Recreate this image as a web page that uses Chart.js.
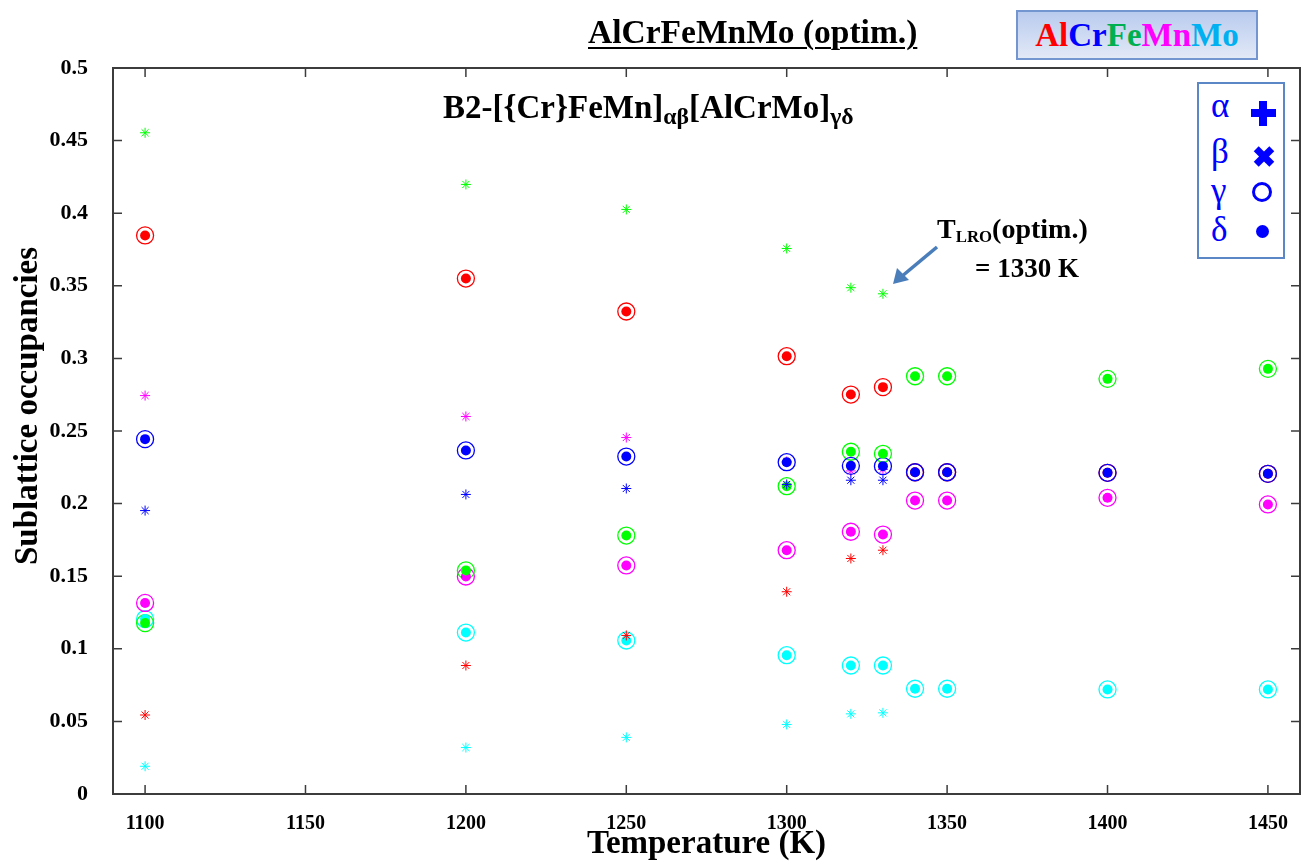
<!DOCTYPE html>
<html>
<head>
<meta charset="utf-8">
<script src="https://cdn.jsdelivr.net/npm/chart.js@4.4.1/dist/chart.umd.min.js"></script>
<style>
body { margin: 0; background: #fff; }
#wrap { position: relative; width: 1311px; height: 862px; font-family: "Liberation Serif", "Times New Roman", serif; }
canvas { position: absolute; left: 0; top: 0; }
.abs { position: absolute; white-space: nowrap; line-height: 1; }
#title { left: 588px; top: 15px; font-size: 33.5px; font-weight: bold; text-decoration: underline; text-decoration-thickness: 2px; text-underline-offset: 4px; }
#elemBox { left: 1016px; top: 10px; width: 238px; height: 46px; border: 2px solid #7395d0; background: linear-gradient(#b9cbee, #e2e9f7); text-align: center; font-size: 33px; font-weight: bold; line-height: 46px; }
#sub { left: 443px; top: 91px; font-size: 33px; font-weight: bold; }
#sub sub { font-size: 72%; vertical-align: -0.25em; }
#tlro sub { font-size: 60%; vertical-align: -0.25em; }
#legend { left: 1197px; top: 82px; width: 84px; height: 173px; border: 2px solid #5b87c7; background: #fff; }
.greek { position: absolute; left: 12px; font-size: 35px; color: #0000ff; }
.sym { position: absolute; background: #0000ff; }
#tlro { left: 937px; top: 215px; font-size: 28px; font-weight: bold; }
#tval { left: 975px; top: 255px; font-size: 27px; font-weight: bold; }
</style>
</head>
<body>
<div id="wrap">
  <canvas id="chart" width="1311" height="862"></canvas>
  <div class="abs" id="title">AlCrFeMnMo (optim.)</div>
  <div class="abs" id="elemBox"><span style="color:#ff0000">Al</span><span style="color:#0000ff">Cr</span><span style="color:#00b050">Fe</span><span style="color:#ff00ff">Mn</span><span style="color:#00b0f0">Mo</span></div>
  <div class="abs" id="sub">B2-[{Cr}FeMn]<sub>αβ</sub>[AlCrMo]<sub>γδ</sub></div>
  <div class="abs" id="legend">
    <div class="greek" style="top:4px">α</div>
    <div class="greek" style="top:50px">β</div>
    <div class="greek" style="top:89px">γ</div>
    <div class="greek" style="top:128px">δ</div>
    <div class="sym" style="left:52px;top:25px;width:25px;height:8px"></div>
    <div class="sym" style="left:60px;top:17px;width:8px;height:25px"></div>
    <div class="sym" style="left:54px;top:69px;width:22px;height:7px;transform:rotate(45deg)"></div>
    <div class="sym" style="left:54px;top:69px;width:22px;height:7px;transform:rotate(-45deg)"></div>
    <div class="sym" style="left:53px;top:98px;width:14px;height:14px;border:3px solid #0000ff;border-radius:50%;background:transparent"></div>
    <div class="sym" style="left:57px;top:141px;width:13px;height:13px;border-radius:50%"></div>
  </div>
  <div class="abs" id="tlro">T<sub>LRO</sub>(optim.)</div>
  <div class="abs" id="tval">= 1330 K</div>
  <svg class="abs" width="1311" height="862" style="left:0;top:0">
    <line x1="937" y1="247" x2="901" y2="277" stroke="#4a7ebb" stroke-width="3.5"/>
    <polygon points="893,284 897,268 909,280" fill="#4a7ebb"/>
  </svg>
</div>
<script>
const temps = [1100, 1200, 1250, 1300, 1320, 1330, 1340, 1350, 1400, 1450];
const tempsOrdered = [1100, 1200, 1250, 1300, 1320, 1330];
const xTicks = [1100, 1150, 1200, 1250, 1300, 1350, 1400, 1450];
const yTicks = [0, 0.05, 0.1, 0.15, 0.2, 0.25, 0.3, 0.35, 0.4, 0.45, 0.5];

// alpha = beta sublattices (plus + cross -> asterisk), ordered state only
const alAB = [0.0544, 0.0885, 0.1092, 0.1393, 0.1622, 0.1679];
const crAB = [0.1952, 0.2063, 0.2104, 0.2132, 0.2161, 0.2161];
const feAB = [0.4554, 0.4198, 0.4026, 0.3757, 0.3487, 0.3445];
const mnAB = [0.2744, 0.2600, 0.2455, 0.2290, 0.2225, 0.2235];
const moAB = [0.0191, 0.0320, 0.0390, 0.0479, 0.0552, 0.0559];

// gamma = delta sublattices (open circle + dot)
const alGD = [0.3847, 0.3550, 0.3323, 0.3015, 0.2751, 0.2802, 0.2216, 0.2216, 0.2212, 0.2205];
const crGD = [0.2444, 0.2366, 0.2324, 0.2285, 0.2260, 0.2258, 0.2216, 0.2216, 0.2212, 0.2205];
const feGD = [0.1177, 0.1540, 0.1780, 0.2120, 0.2357, 0.2343, 0.2877, 0.2877, 0.2859, 0.2928];
const mnGD = [0.1316, 0.1498, 0.1574, 0.1679, 0.1806, 0.1787, 0.2021, 0.2021, 0.2040, 0.1994];
const moGD = [0.1205, 0.1112, 0.1057, 0.0956, 0.0885, 0.0885, 0.0725, 0.0725, 0.0720, 0.0720];

const FONT = '"Liberation Serif", "Times New Roman", serif';

const el = {
  Al: { color: '#ff0000', ab: alAB, gd: alGD },
  Cr: { color: '#0000ff', ab: crAB, gd: crGD },
  Fe: { color: '#00ff00', ab: feAB, gd: feGD },
  Mn: { color: '#ff00ff', ab: mnAB, gd: mnGD },
  Mo: { color: '#00ffff', ab: moAB, gd: moGD }
};

function pts(xs, ys) { return ys.map((v, i) => ({ x: xs[i], y: v })); }

function ab(name) {
  const e = el[name];
  return [
    { label: name + ' α', data: pts(tempsOrdered, e.ab), pointStyle: 'cross', pointRadius: 5, borderColor: e.color, borderWidth: 1 },
    { label: name + ' β', data: pts(tempsOrdered, e.ab), pointStyle: 'crossRot', pointRadius: 5, borderColor: e.color, borderWidth: 1 }
  ];
}
function dot(name) {
  const e = el[name];
  return { label: name + ' δ', data: pts(temps, e.gd), pointStyle: 'circle', pointRadius: 5, backgroundColor: e.color, borderWidth: 0 };
}
function ring(name) {
  const e = el[name];
  return { label: name + ' γ', data: pts(temps, e.gd), pointStyle: 'circle', pointRadius: 8.5, backgroundColor: 'transparent', borderColor: e.color, borderWidth: 1.3 };
}

// first dataset is drawn on top
const datasets = [
  ...ab('Cr'), ...ab('Al'), ...ab('Fe'), ...ab('Mo'),
  dot('Cr'), dot('Al'), dot('Fe'), dot('Mn'), dot('Mo'),
  ring('Cr'), ring('Al'), ring('Fe'), ring('Mn'), ring('Mo'),
  ...ab('Mn')
];

const framePlugin = {
  id: 'frame',
  afterDraw(chart) {
    const { ctx, chartArea: a, scales: { x, y } } = chart;
    ctx.save();
    ctx.strokeStyle = '#3c3c3c';
    ctx.lineWidth = 2;
    ctx.strokeRect(a.left, a.top, a.right - a.left, a.bottom - a.top);
    ctx.lineWidth = 1.5;
    ctx.beginPath();
    x.ticks.forEach(t => {
      const px = x.getPixelForValue(t.value);
      ctx.moveTo(px, a.bottom); ctx.lineTo(px, a.bottom - 9);
      ctx.moveTo(px, a.top); ctx.lineTo(px, a.top + 9);
    });
    y.ticks.forEach(t => {
      const py = y.getPixelForValue(t.value);
      ctx.moveTo(a.left, py); ctx.lineTo(a.left + 9, py);
      ctx.moveTo(a.right, py); ctx.lineTo(a.right - 9, py);
    });
    ctx.stroke();
    ctx.translate(28, 406);
    ctx.rotate(-Math.PI / 2);
    ctx.font = 'bold 33px ' + FONT;
    ctx.fillStyle = '#000';
    ctx.textAlign = 'center';
    ctx.textBaseline = 'middle';
    ctx.fillText('Sublattice occupancies', 0, 0);
    ctx.restore();
  }
};

new Chart(document.getElementById('chart'), {
  type: 'scatter',
  data: { datasets },
  options: {
    responsive: false,
    animation: false,
    layout: { padding: { top: 68, right: 11, left: 0, bottom: 0 } },
    plugins: { legend: { display: false }, tooltip: { enabled: false } },
    scales: {
      x: {
        type: 'linear',
        min: 1090,
        max: 1460,
        afterBuildTicks: s => { s.ticks = xTicks.map(v => ({ value: v })); },
        afterFit: s => { s.height = 68; },
        grid: { display: false, drawTicks: false },
        border: { display: false },
        ticks: { padding: 18, color: '#000', font: { family: FONT, size: 20, weight: 'bold' }, callback: v => String(v) },
        title: { display: true, text: 'Temperature (K)', color: '#000', font: { family: FONT, size: 33, weight: 'bold' }, padding: { top: 0, bottom: -2 } }
      },
      y: {
        min: 0,
        max: 0.5,
        afterBuildTicks: s => { s.ticks = yTicks.map(v => ({ value: v })); },
        afterFit: s => { s.width = 113; },
        grid: { display: false, drawTicks: false },
        border: { display: false },
        ticks: { padding: 25, color: '#000', font: { family: FONT, size: 22, weight: 'bold' }, callback: v => String(+v.toFixed(2)) }
      }
    }
  },
  plugins: [framePlugin]
});
</script>
</body>
</html>
